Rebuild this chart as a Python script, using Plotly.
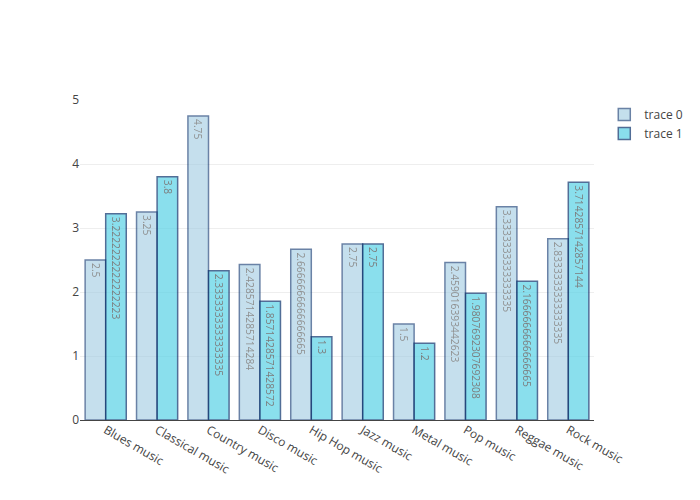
import plotly.graph_objects as go

categories = ["Blues music", "Classical music", "Country music", "Disco music", "Hip Hop music",
              "Jazz music", "Metal music", "Pop music", "Reggae music", "Rock music"]
trace0_values = [2.5, 3.25, 4.75, 2.4285714285714284, 2.6666666666666665,
                 2.75, 1.5, 2.459016393442623, 3.3333333333333335, 2.8333333333333335]
trace1_values = [3.2222222222222223, 3.8, 2.3333333333333335, 1.8571428571428572, 1.3,
                 2.75, 1.2, 1.9807692307692308, 2.1666666666666665, 3.7142857142857144]

fig = go.Figure()
fig.add_trace(go.Bar(
    x=categories, y=trace0_values, text=[str(v) for v in trace0_values],
    textposition="auto",
    marker=dict(color="rgb(158,202,225)", line=dict(color="rgb(8,48,107)", width=1.5)),
    opacity=0.6, textfont=dict(color="#444"),
))
fig.add_trace(go.Bar(
    x=categories, y=trace1_values, text=[str(v) for v in trace1_values],
    textposition="auto",
    marker=dict(color="rgb(88,209,230)", line=dict(color="rgb(8,48,107)", width=1.5)),
    opacity=0.7, textfont=dict(color="#444"),
))
fig.update_layout(
    template="none",
    width=700, height=500,
    font=dict(family="Open Sans", color="#444"),
    xaxis=dict(tickangle=30),
)
fig.write_html("out.html", config={"displayModeBar": False},
               post_script="document.body.style.margin='0';")
